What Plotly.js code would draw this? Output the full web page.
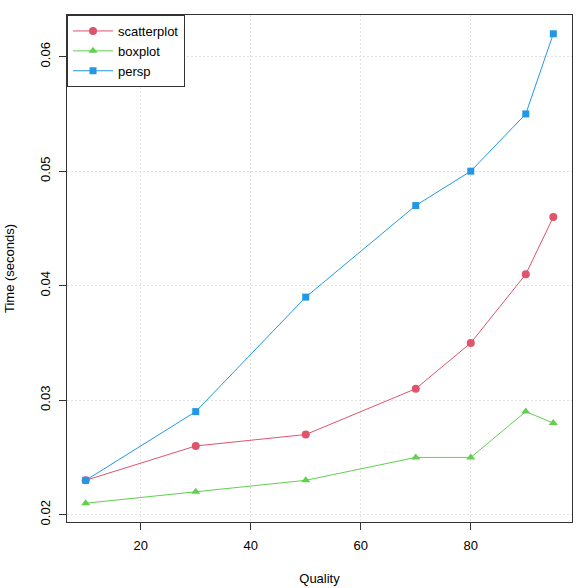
<!DOCTYPE html>
<html><head><meta charset="utf-8">
<script src="https://cdn.plot.ly/plotly-3.0.1.min.js"></script>
<style>html,body{margin:0;padding:0;background:#fff}</style>
</head><body>
<div id="chart" style="width:588px;height:588px"></div>
<script>
const quality = [10, 30, 50, 70, 80, 90, 95];
const scatterplot = [0.023, 0.026, 0.027, 0.031, 0.035, 0.041, 0.046];
const boxplot = [0.021, 0.022, 0.023, 0.025, 0.025, 0.029, 0.028];
const persp = [0.023, 0.029, 0.039, 0.047, 0.050, 0.055, 0.062];
const seriesNames = ["scatterplot", "boxplot", "persp"];
const xTicks = [20, 40, 60, 80];
const yTicks = [0.02, 0.03, 0.04, 0.05, 0.06];

const colors = ["#DF536B", "#61D04F", "#2297E6"];
const symbols = ["circle", "triangle-up", "square"];
const sizes = [8, 8, 7];
const data = [scatterplot, boxplot, persp].map((ys, i) => ({
  x: quality, y: ys, name: seriesNames[i], type: "scatter", mode: "lines+markers",
  line: {color: colors[i], width: 1},
  marker: {color: colors[i], symbol: symbols[i], size: sizes[i]}
}));

const axisCommon = {
  showline: true, mirror: true, linecolor: "#333", linewidth: 1,
  ticks: "outside", ticklen: 7, tickcolor: "#333", tickwidth: 1,
  showgrid: true, gridcolor: "#e2e2e2", griddash: "2px,2px", gridwidth: 1,
  zeroline: false, ticklabelstandoff: 4,
  tickfont: {size: 13, color: "#000", family: "Liberation Sans, Arial, sans-serif"}
};

const layout = {
  width: 588, height: 588,
  margin: {l: 67, r: 16, t: 15, b: 66},
  paper_bgcolor: "#fff", plot_bgcolor: "#fff",
  font: {family: "Liberation Sans, Arial, sans-serif", size: 13, color: "#000"},
  showlegend: true,
  legend: {x: 0, y: 1, xanchor: "left", yanchor: "top", bgcolor: "#fff",
    bordercolor: "#333", borderwidth: 1, font: {size: 13}, tracegroupgap: 0, itemwidth: 40},
  xaxis: Object.assign({}, axisCommon, {
    range: [6.6, 98.4], tickvals: xTicks, ticktext: xTicks.map(String),
    title: {text: "Quality", font: {size: 13}, standoff: 22}
  }),
  yaxis: Object.assign({}, axisCommon, {
    range: [0.01936, 0.06364], tickvals: yTicks, ticktext: yTicks.map(v => v.toFixed(2)),
    tickangle: -90,
    title: {text: "Time (seconds)", font: {size: 13}, standoff: 20}
  })
};

Plotly.newPlot("chart", data, layout, {displayModeBar: false, staticPlot: true});
</script>
</body></html>
